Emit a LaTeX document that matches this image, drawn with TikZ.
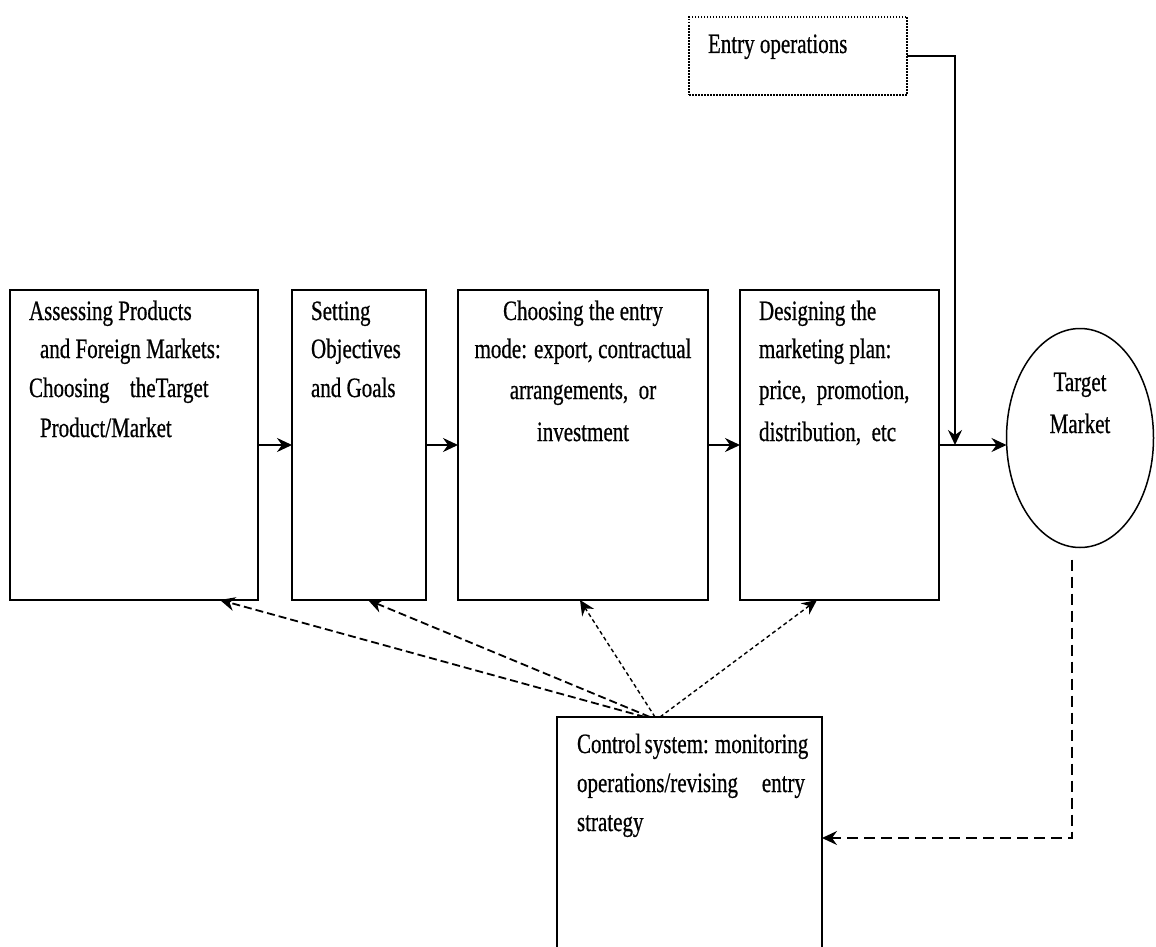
\documentclass[tikz,border=0pt]{standalone}
\usepackage{fontspec}
\setmainfont[FakeStretch=0.75,FakeBold=0.6]{Liberation Serif}
\usetikzlibrary{arrows.meta,shapes.geometric}
\begin{document}
\begin{tikzpicture}[x=1pt,y=-1pt,
  box/.style={draw, line width=1.9pt, rectangle, inner sep=0pt, outer sep=0pt, anchor=north west},
  txt/.style={font=\fontsize{28}{39}\selectfont, inner sep=0pt, outer sep=0pt, anchor=base west},
  ctxt/.style={txt, anchor=base},
  tip/.style={-{Stealth[length=15pt,width=14pt,inset=5pt]}},
  arr/.style={line width=1.9pt, tip},
  fb/.style={line width=1.8pt, dash pattern=on 8pt off 4pt, tip},
  fbthin/.style={line width=1.4pt, dash pattern=on 4pt off 3pt, tip},
  vdash/.style={line width=1.4pt, dash pattern=on 11pt off 6pt, tip}]
\useasboundingbox[fill=white] (0,0) rectangle (1156,947);
\clip (0,0) rectangle (1156,947);

% boxes
\node[box, minimum width=248pt, minimum height=310pt] (b1) at (10,290) {};
\node[box, minimum width=134pt, minimum height=310pt] (b2) at (292,290) {};
\node[box, minimum width=250pt, minimum height=310pt] (b3) at (458,290) {};
\node[box, minimum width=199pt, minimum height=310pt] (b4) at (740,290) {};
\node[box, line width=1.4pt, dash pattern=on 1.5pt off 1.5pt, minimum width=218pt, minimum height=78pt] (eo) at (689,17) {};
\node[draw, ellipse, line width=1.5pt, inner sep=0pt, outer sep=0pt, minimum width=147pt, minimum height=219pt] (tm) at (1080,438) {};
\node[box, minimum width=265pt, minimum height=242pt] (cs) at (557,717) {};

% texts
\node[txt] (t1a) at (29,320) {Assessing Products};
\node[txt] (t1b) at (40,358) {and\ Foreign\ Markets:};
\node[txt] (t1c) at (29,397) {\makebox[101pt][l]{Choosing}theTarget};
\node[txt] (t1d) at (40,437) {Product/Market};

\node[txt] (t2a) at (311,320) {Setting};
\node[txt] (t2b) at (311,358) {Objectives};
\node[txt] (t2c) at (311,397) {and Goals};

\node[ctxt] (t3a) at (583,320) {Choosing the entry};
\node[ctxt] (t3b) at (583,358) {mode: export, contractual};
\node[ctxt] (t3c) at (583,399) {arrangements,\ \ or};
\node[ctxt] (t3d) at (583,441) {investment};

\node[txt] (t4a) at (759,320) {Designing the};
\node[txt] (t4b) at (759,358) {marketing plan:};
\node[txt] (t4c) at (759,399) {price,\ \ promotion,};
\node[txt] (t4d) at (759,441) {distribution,\ \ etc};

\node[txt] (teo) at (708,53) {Entry operations};

\node[ctxt] (ttma) at (1080,391) {Target};
\node[ctxt] (ttmb) at (1080,433) {Market};

\node[txt] (tcsa) at (577,753) {\makebox[228pt][s]{Control system: monitoring}};
\node[txt] (tcsb) at (577,792) {\makebox[228pt][s]{operations/revising\hfill entry}};
\node[txt] (tcsc) at (577,831) {strategy};

% main flow
\draw[arr] (b1.east) -- (b2.west);
\draw[arr] (b2.east) -- (b3.west);
\draw[arr] (b3.east) -- (b4.west);
\draw[arr] (b4.east) -- (b4.east -| tm.west);
\coordinate (jn) at (955,445);
\draw[arr] (eo.east) -| (jn);

% feedback from control system
\draw[fb] ([xshift=88pt]cs.north west) -- ([xshift=210pt]b1.south west);
\draw[fb] ([xshift=93pt]cs.north west) -- ([xshift=76pt]b2.south west);
\draw[fbthin] ([xshift=98pt]cs.north west) -- ([xshift=122pt]b3.south west);
\draw[fbthin] ([xshift=103pt]cs.north west) -- ([xshift=77pt]b4.south west);

% target market to control system
\draw[vdash] ([xshift=-8pt,yshift=-12pt]tm.south) |- (cs.east);
\end{tikzpicture}
\end{document}
